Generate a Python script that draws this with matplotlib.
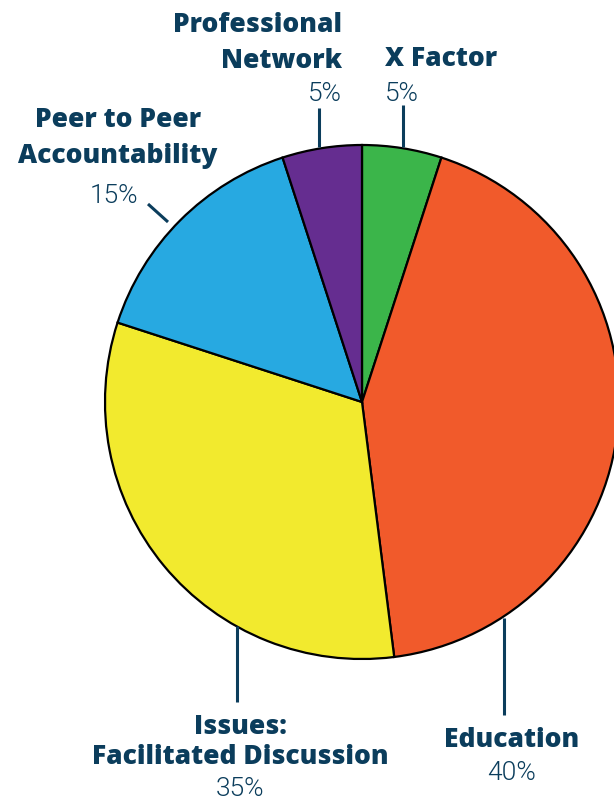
import matplotlib
matplotlib.use("Agg")
import matplotlib.pyplot as plt

# slice data (clockwise from top)
labels = ["X Factor", "Education", "Issues:\nFacilitated Discussion",
          "Peer to Peer\nAccountability", "Professional\nNetwork"]
shares = [5, 43, 32, 15, 5]          # drawn share of the circle
pct_text = ["5%", "40%", "35%", "15%", "5%"]  # printed labels
colors = ["#3bb54a", "#f15a2b", "#f2ea2e", "#27a9e1", "#652d90"]

navy = "#0b3d5c"
H = 801

fig = plt.figure(figsize=(6.14, 8.01), dpi=100)
ax = fig.add_axes([0, 0, 1, 1])

ax.pie(shares, colors=colors, startangle=90, counterclock=False,
       center=(362, H - 402), radius=257, frame=True,
       wedgeprops=dict(edgecolor="black", linewidth=1.6))
ax.set_xlim(0, 614)
ax.set_ylim(0, H)
ax.axis("off")

def Y(y):
    return H - y

# leader lines (pixel coords from top)
leaders = [
    ((403, 105), (403, 147)),
    ((319, 108), (319, 147)),
    ((148, 204), (168, 222)),
    ((237, 626), (237, 702)),
    ((504, 618), (504, 715)),
]
for (x0, y0), (x1, y1) in leaders:
    ax.plot([x0, x1], [Y(y0), Y(y1)], color=navy, lw=2.2, solid_capstyle="butt")

bold = dict(family=["Open Sans", "DejaVu Sans"], weight=800, color=navy, fontsize=19)
light = dict(family=["Roboto", "DejaVu Sans"], weight=300, color=navy, fontsize=19)

def put(x, y, s, ha, style):
    ax.text(x, Y(y), s, ha=ha, va="center", **style)

# X Factor
put(385, 59, "X Factor", "left", bold)
put(385, 94, pct_text[0], "left", light)
# Education
put(512, 740, "Education", "center", bold)
put(512, 773, pct_text[1], "center", light)
# Issues
put(240, 727, "Issues:", "center", bold)
put(240, 757, "Facilitated Discussion", "center", bold)
put(240, 789, pct_text[2], "center", light)
# Peer to Peer
put(118, 120, "Peer to Peer", "center", bold)
put(118, 156, "Accountability", "center", bold)
put(138, 196, pct_text[3], "right", light)
# Professional Network
put(342, 25, "Professional", "right", bold)
put(342, 61, "Network", "right", bold)
put(342, 94, pct_text[4], "right", light)

fig.savefig("out.png", dpi=100)
